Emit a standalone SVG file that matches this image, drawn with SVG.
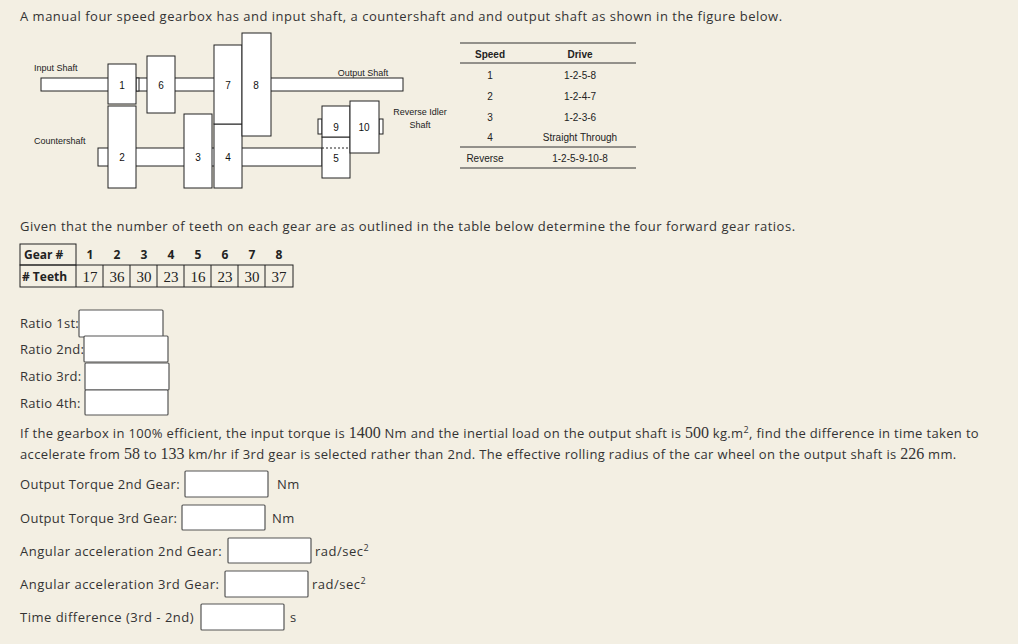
<svg xmlns="http://www.w3.org/2000/svg" width="1018" height="644" viewBox="0 0 1018 644">
<style>
.t{font-family:"Open Sans","Liberation Sans",sans-serif;font-size:13px;letter-spacing:0.5px;fill:#333}
.p{letter-spacing:0.35px}
.l{letter-spacing:0.3px}
.d{font-family:"Liberation Sans",sans-serif;font-size:9px;fill:#222}
.g{font-family:"Liberation Sans",sans-serif;font-size:10px;fill:#111;text-anchor:middle}
.gb{fill:#fff;stroke:#222;stroke-width:1}
.tb{font-family:"Liberation Sans",sans-serif;font-size:10px;fill:#222;text-anchor:middle}
.box{fill:#fff;stroke:#555;stroke-width:1.2}
.hd{font-family:"Open Sans","Liberation Sans",sans-serif;font-size:12px;font-weight:bold;fill:#222}
.sr{font-family:"Liberation Serif",serif;font-size:15px;fill:#222;text-anchor:middle}
.cell{fill:none;stroke:#222;stroke-width:1}
</style>
<rect width="1018" height="644" fill="#f3efe3"/>
<text class="t" x="20" y="21">A manual four speed gearbox has and input shaft, a countershaft and and output shaft as shown in the figure below.</text>
<g id="shafts">
<rect class="gb" x="41" y="78" width="362" height="13"/>
<rect class="gb" x="98" y="148" width="224" height="18"/>
<rect class="gb" x="136" y="78" width="3" height="13"/>
<rect class="gb" x="318" y="119" width="4" height="15"/>
<rect class="gb" x="379" y="119" width="4" height="15"/>
</g>
<g id="gear2"><rect class="gb" x="108" y="106" width="28" height="82"/><text class="g" x="122" y="161">2</text></g>
<g id="gear1"><rect class="gb" x="108" y="64" width="28" height="40"/><text class="g" x="122" y="89">1</text></g>
<g id="gear6"><rect class="gb" x="147" y="56" width="28" height="57"/><text class="g" x="161" y="89">6</text></g>
<g id="gear3"><rect class="gb" x="184" y="114" width="28" height="74"/><text class="g" x="198" y="161">3</text></g>
<g id="gear4"><rect class="gb" x="214" y="124" width="28" height="64"/><text class="g" x="228" y="161">4</text></g>
<g id="gear7"><rect class="gb" x="214" y="45" width="28" height="79"/><text class="g" x="228" y="89">7</text></g>
<g id="gear8"><rect class="gb" x="242" y="33" width="29" height="103"/><text class="g" x="256" y="89">8</text></g>
<g id="gear5"><rect class="gb" x="322" y="137" width="28" height="41"/><line x1="322" y1="148" x2="350" y2="148" stroke="#222" stroke-dasharray="2,2"/><text class="g" x="336" y="162">5</text></g>
<g id="gear9"><rect class="gb" x="322" y="106" width="28" height="31"/><text class="g" x="336" y="131">9</text></g>
<g id="gear10"><rect class="gb" x="350" y="101" width="29" height="52"/><text class="g" x="364" y="131">10</text></g>
<text class="d" x="34" y="71">Input Shaft</text>
<text class="d" x="363" y="76" text-anchor="middle">Output Shaft</text>
<text class="d" x="34" y="144">Countershaft</text>
<text class="d" x="420" y="115" text-anchor="middle">Reverse Idler</text>
<text class="d" x="420" y="128" text-anchor="middle">Shaft</text>
<g id="speedtable">
<line x1="460" y1="43" x2="636" y2="43" stroke="#333" stroke-width="1.2"/>
<line x1="460" y1="63" x2="636" y2="63" stroke="#333" stroke-width="1"/>
<line x1="460" y1="147" x2="636" y2="147" stroke="#333" stroke-width="1"/>
<line x1="460" y1="168" x2="636" y2="168" stroke="#333" stroke-width="1.2"/>
<text class="tb" x="490" y="58" font-weight="bold">Speed</text><text class="tb" x="580" y="58" font-weight="bold">Drive</text>
<text class="tb" x="490" y="79">1</text><text class="tb" x="580" y="79">1-2-5-8</text>
<text class="tb" x="490" y="100">2</text><text class="tb" x="580" y="100">1-2-4-7</text>
<text class="tb" x="490" y="121">3</text><text class="tb" x="580" y="121">1-2-3-6</text>
<text class="tb" x="490" y="141">4</text><text class="tb" x="580" y="141">Straight Through</text>
<text class="tb" x="485" y="162">Reverse</text><text class="tb" x="580" y="162">1-2-5-9-10-8</text>
</g>
<text class="t" x="20" y="231">Given that the number of teeth on each gear are as outlined in the table below determine the four forward gear ratios.</text>
<g id="teethtable">
<rect class="cell" x="20" y="244" width="56" height="21"/>
<text class="hd" x="24" y="259">Gear #</text>
<text class="hd" x="90" y="259" text-anchor="middle">1</text>
<text class="hd" x="117" y="259" text-anchor="middle">2</text>
<text class="hd" x="144" y="259" text-anchor="middle">3</text>
<text class="hd" x="171" y="259" text-anchor="middle">4</text>
<text class="hd" x="198" y="259" text-anchor="middle">5</text>
<text class="hd" x="225" y="259" text-anchor="middle">6</text>
<text class="hd" x="252" y="259" text-anchor="middle">7</text>
<text class="hd" x="279" y="259" text-anchor="middle">8</text>
<rect class="cell" x="20" y="265" width="273" height="22"/>
<line x1="76" y1="265" x2="76" y2="287" stroke="#222"/>
<line x1="103" y1="265" x2="103" y2="287" stroke="#222"/>
<line x1="130" y1="265" x2="130" y2="287" stroke="#222"/>
<line x1="157" y1="265" x2="157" y2="287" stroke="#222"/>
<line x1="184" y1="265" x2="184" y2="287" stroke="#222"/>
<line x1="211" y1="265" x2="211" y2="287" stroke="#222"/>
<line x1="238" y1="265" x2="238" y2="287" stroke="#222"/>
<line x1="265" y1="265" x2="265" y2="287" stroke="#222"/>
<text class="hd" x="22" y="281"># Teeth</text>
<text class="sr" x="90" y="282">17</text><text class="sr" x="117" y="282">36</text><text class="sr" x="144" y="282">30</text><text class="sr" x="171" y="282">23</text><text class="sr" x="198" y="282">16</text><text class="sr" x="225" y="282">23</text><text class="sr" x="252" y="282">30</text><text class="sr" x="279" y="282">37</text>
</g>
<text class="t l" x="20" y="328">Ratio 1st:</text><rect class="box" x="79" y="310" width="84" height="27" rx="1"/>
<text class="t l" x="20" y="354">Ratio 2nd:</text><rect class="box" x="84" y="336" width="84" height="26" rx="1"/>
<text class="t l" x="20" y="381">Ratio 3rd:</text><rect class="box" x="85" y="363" width="84" height="27" rx="1"/>
<text class="t l" x="20" y="408">Ratio 4th:</text><rect class="box" x="85" y="390" width="83" height="25" rx="1"/>
<text class="t p" x="20" y="438">If the gearbox in 100% efficient, the input torque is <tspan font-family="Liberation Serif,serif" font-size="16" letter-spacing="0">1400</tspan> Nm and the inertial load on the output shaft is <tspan font-family="Liberation Serif,serif" font-size="16" letter-spacing="0">500</tspan> kg.m<tspan font-size="9" dy="-5">2</tspan><tspan dy="5">, find the difference in time taken to</tspan></text>
<text class="t p" x="20" y="459">accelerate from <tspan font-family="Liberation Serif,serif" font-size="16" letter-spacing="0">58</tspan> to <tspan font-family="Liberation Serif,serif" font-size="16" letter-spacing="0">133</tspan> km/hr if 3rd gear is selected rather than 2nd. The effective rolling radius of the car wheel on the output shaft is <tspan font-family="Liberation Serif,serif" font-size="16" letter-spacing="0">226</tspan> mm.</text>
<text class="t l" x="20" y="489">Output Torque 2nd Gear:</text><rect class="box" x="185" y="471" width="83" height="26" rx="1"/><text class="t" x="277" y="489">Nm</text>
<text class="t l" x="20" y="523">Output Torque 3rd Gear:</text><rect class="box" x="182" y="505" width="83" height="25" rx="1"/><text class="t" x="272" y="523">Nm</text>
<text class="t" x="20" y="556">Angular acceleration 2nd Gear:</text><rect class="box" x="228" y="538" width="83" height="25" rx="1"/><text class="t" x="315" y="556">rad/sec<tspan font-size="9" dy="-5">2</tspan></text>
<text class="t" x="20" y="589">Angular acceleration 3rd Gear:</text><rect class="box" x="225" y="571" width="83" height="26" rx="1"/><text class="t" x="312" y="589">rad/sec<tspan font-size="9" dy="-5">2</tspan></text>
<text class="t" x="20" y="622">Time difference (3rd - 2nd)</text><rect class="box" x="201" y="604" width="83" height="26" rx="1"/><text class="t" x="290" y="622">s</text>
</svg>
